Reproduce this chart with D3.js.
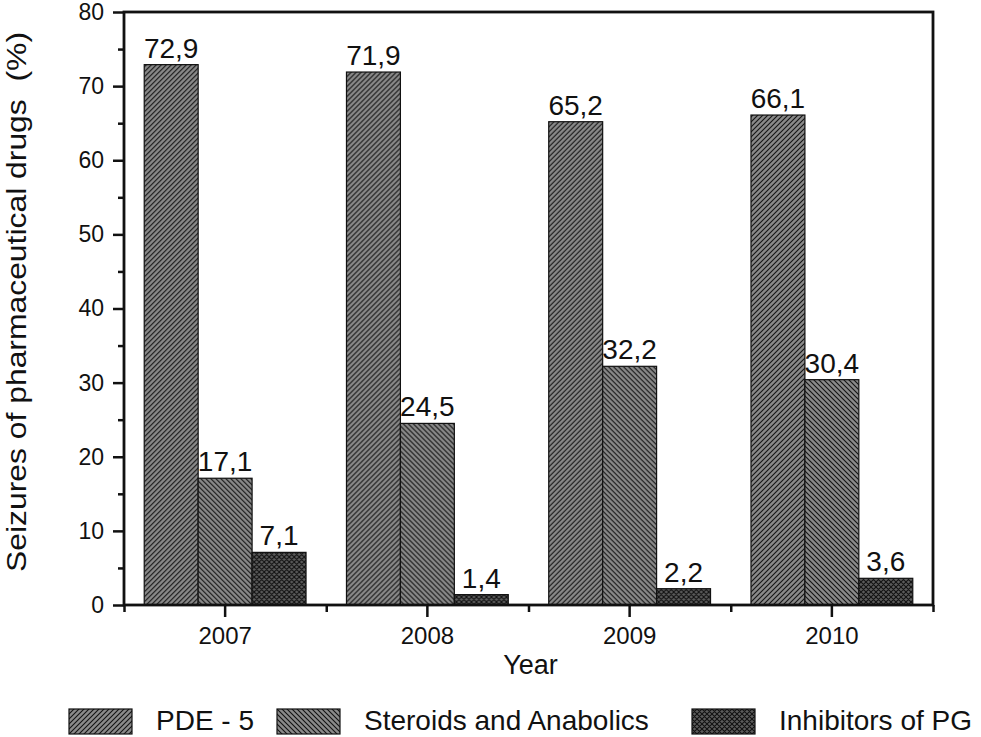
<!DOCTYPE html>
<html>
<head>
<meta charset="utf-8">
<script src="https://cdn.jsdelivr.net/npm/d3@7"></script>
<style>
  body { margin: 0; background: #fff; }
  text { font-family: "Liberation Sans", Arial, sans-serif; fill: #111; }
</style>
</head>
<body>
<div id="chart-area"></div>
<script>
// data
let years = ["2007", "2008", "2009", "2010"];
let seriesNames = ["PDE - 5", "Steroids and Anabolics", "Inhibitors of PG"];
let pde5 = [72.9, 71.9, 65.2, 66.1];
let steroids = [17.1, 24.5, 32.2, 30.4];
let inhibitors = [7.1, 1.4, 2.2, 3.6];
let valueLabels = [["72,9", "71,9", "65,2", "66,1"],
                   ["17,1", "24,5", "32,2", "30,4"],
                   ["7,1", "1,4", "2,2", "3,6"]];
let yMajor = [0, 10, 20, 30, 40, 50, 60, 70, 80];
let yMinor = [5, 15, 25, 35, 45, 55, 65, 75];

let seriesValues = [pde5, steroids, inhibitors];
let patternIds = ["hatchFwd", "hatchBack", "hatchCross"];

// define margins
let margin = {top: 12, right: 48, bottom: 132, left: 124};
let width = 981 - margin.left - margin.right,
    height = 737 - margin.top - margin.bottom;

let root = d3.select("#chart-area")
    .append("svg")
    .attr("width", 981)
    .attr("height", 737);

// hatch patterns
let defs = root.append("defs");
function addPattern(id, fill, size, d) {
    let p = defs.append("pattern")
        .attr("id", id)
        .attr("patternUnits", "userSpaceOnUse")
        .attr("width", size)
        .attr("height", size);
    p.append("rect").attr("width", size).attr("height", size).attr("fill", fill);
    p.append("path").attr("d", d).attr("stroke", "#111").attr("stroke-width", 1.1).attr("fill", "none");
}
addPattern("hatchFwd", "#8a8a8a", 5, "M0,5L5,0M-1,1L1,-1M4,6L6,4");
addPattern("hatchBack", "#8a8a8a", 5, "M0,0L5,5M-1,4L1,6M4,-1L6,1");
addPattern("hatchCross", "#5c5c5c", 5, "M0,5L5,0M-1,1L1,-1M4,6L6,4M0,0L5,5M-1,4L1,6M4,-1L6,1");

let svg = root.append("g")
    .attr("transform", "translate(" + margin.left + "," + margin.top + ")");

// scales
let x0 = d3.scaleBand().domain(years).range([0, width]).paddingInner(0.2).paddingOuter(0.1);
let x1 = d3.scaleBand().domain(d3.range(seriesNames.length)).range([0, x0.bandwidth()]);
let xEdges = d3.scaleLinear().domain([0, years.length]).range([0, width]);
let y = d3.scaleLinear().domain([0, 80]).range([height, 0]);

// bars
let groups = svg.selectAll(".year")
    .data(years)
    .enter().append("g")
    .attr("class", "year")
    .attr("transform", d => "translate(" + x0(d) + ",0)");

let barData = (d, i) => seriesValues.map((s, k) => ({k: k, v: s[i], label: valueLabels[k][i]}));

groups.selectAll("rect")
    .data(barData)
    .enter().append("rect")
    .attr("x", d => x1(d.k))
    .attr("y", d => y(d.v))
    .attr("width", x1.bandwidth())
    .attr("height", d => height - y(d.v))
    .attr("fill", d => "url(#" + patternIds[d.k] + ")")
    .attr("stroke", "#111")
    .attr("stroke-width", 1.2);

groups.selectAll(".val")
    .data(barData)
    .enter().append("text")
    .attr("class", "val")
    .attr("x", d => x1(d.k) + x1.bandwidth() / 2)
    .attr("y", d => y(d.v) - 7)
    .attr("text-anchor", "middle")
    .style("font-size", "28px")
    .text(d => d.label);

// axes
function styleAxis(size) {
    return function(g) {
        g.select(".domain").remove();
        g.selectAll("line").attr("stroke", "#111").attr("stroke-width", 2.5);
        g.selectAll("text").style("font-size", size + "px").attr("fill", "#111");
    };
}

svg.append("g")
    .attr("transform", "translate(0," + height + ")")
    .call(d3.axisBottom(x0).tickSize(12).tickPadding(10))
    .call(styleAxis(24));

svg.append("g")
    .attr("transform", "translate(0," + height + ")")
    .call(d3.axisBottom(xEdges).tickValues(d3.range(years.length + 1)).tickSize(7).tickFormat(""))
    .call(styleAxis(24));

svg.append("g")
    .call(d3.axisLeft(y).tickValues(yMajor).tickSize(11).tickPadding(9))
    .call(styleAxis(23));

svg.append("g")
    .call(d3.axisLeft(y).tickValues(yMinor).tickSize(6).tickFormat(""))
    .call(styleAxis(23));

// frame
svg.append("rect")
    .attr("width", width)
    .attr("height", height)
    .attr("fill", "none")
    .attr("stroke", "#111")
    .attr("stroke-width", 2.8);

// axis titles
svg.append("text")
    .attr("x", width / 2 + 2)
    .attr("y", height + 69)
    .attr("text-anchor", "middle")
    .style("font-size", "27px")
    .text("Year");

root.append("text")
    .attr("transform", "translate(26,302) rotate(-90)")
    .attr("text-anchor", "middle")
    .attr("textLength", 540)
    .attr("lengthAdjust", "spacingAndGlyphs")
    .style("font-size", "27px")
    .style("white-space", "pre")
    .text("Seizures of pharmaceutical drugs  (%)");

// legend
let legendX = [69, 277, 692];
let legend = root.selectAll(".legend")
    .data(seriesNames)
    .enter().append("g")
    .attr("class", "legend")
    .attr("transform", (d, i) => "translate(" + legendX[i] + ",709)");

legend.append("rect")
    .attr("width", 63)
    .attr("height", 25)
    .attr("fill", (d, i) => "url(#" + patternIds[i] + ")")
    .attr("stroke", "#111")
    .attr("stroke-width", 1.2);

legend.append("text")
    .attr("x", 87)
    .attr("y", 21)
    .style("font-size", "28px")
    .text(d => d);
</script>
</body>
</html>
